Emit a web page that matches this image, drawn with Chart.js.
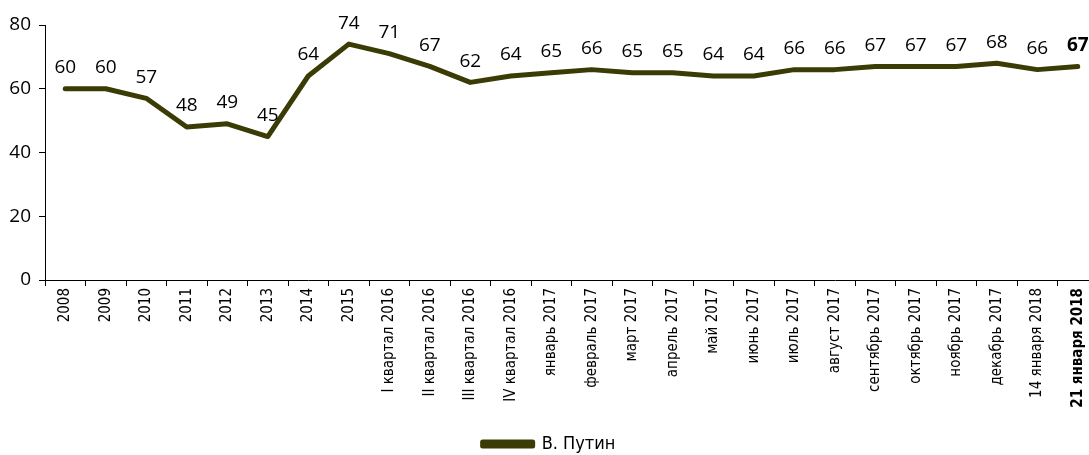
<!DOCTYPE html>
<html>
<head>
<meta charset="utf-8">
<script src="https://cdn.jsdelivr.net/npm/chart.js@4.4.1/dist/chart.umd.min.js"></script>
<style>
  html, body { margin: 0; padding: 0; background: #fff; overflow: hidden; }
  #wrap { width: 1098px; height: 463px; }
</style>
</head>
<body>
<div id="wrap"><canvas id="c" width="1098" height="463"></canvas></div>
<script>
const categories = [
  "2008", "2009", "2010", "2011", "2012", "2013", "2014", "2015",
  "I квартал 2016", "II квартал 2016", "III квартал 2016", "IV квартал 2016",
  "январь 2017", "февраль 2017", "март 2017", "апрель 2017", "май 2017",
  "июнь 2017", "июль 2017", "август 2017", "сентябрь 2017", "октябрь 2017",
  "ноябрь 2017", "декабрь 2017", "14 января 2018", "21 января 2018"
];
const seriesName = "В. Путин";
const putinValues = [60, 60, 57, 48, 49, 45, 64, 74, 71, 67, 62, 64, 65, 66, 65, 65, 64, 64, 66, 66, 67, 67, 67, 68, 66, 67];
const yTicks = [0, 20, 40, 60, 80];

const LINE_COLOR = "#3b3b06";
const NARROW = "'Liberation Sans Narrow', 'DejaVu Sans Condensed', 'Roboto', sans-serif";
const SANS = "'Open Sans', 'Noto Sans', sans-serif";
const lastIndex = categories.length - 1;

const valueLabels = {
  id: "valueLabels",
  afterDatasetsDraw(chart) {
    const ctx = chart.ctx;
    const meta = chart.getDatasetMeta(0);
    const data = chart.data.datasets[0].data;
    ctx.save();
    ctx.fillStyle = "#000";
    ctx.textAlign = "center";
    ctx.textBaseline = "middle";
    meta.data.forEach((pt, i) => {
      ctx.font = (i === lastIndex ? "bold " : "") + "19px " + SANS;
      ctx.fillText(String(data[i]), pt.x, pt.y - 21);
    });
    ctx.restore();
  }
};

new Chart(document.getElementById("c"), {
  type: "line",
  data: {
    labels: categories,
    datasets: [{
      label: seriesName,
      data: putinValues,
      borderColor: LINE_COLOR,
      backgroundColor: LINE_COLOR,
      borderWidth: 5,
      borderCapStyle: "round",
      borderJoinStyle: "round",
      pointRadius: 0,
      tension: 0,
      fill: false
    }]
  },
  options: {
    responsive: false,
    animation: false,
    devicePixelRatio: 1,
    layout: { padding: { top: 25, left: 0, right: 0, bottom: 0 } },
    plugins: {
      tooltip: { enabled: false },
      legend: {
        position: "bottom",
        labels: {
          boxWidth: 50,
          boxHeight: 4,
          padding: 6,
          color: "#000",
          font: { family: NARROW, size: 18 }
        }
      }
    },
    scales: {
      x: {
        offset: true,
        grid: {
          offset: true,
          drawOnChartArea: false,
          drawTicks: true,
          tickLength: 6,
          color: "#000",
          lineWidth: 1
        },
        border: { display: true, color: "#000", width: 1 },
        ticks: {
          autoSkip: false,
          minRotation: 90,
          maxRotation: 90,
          padding: 2,
          color: "#000",
          font: (c) => ({ family: NARROW, size: 15, weight: c.index === lastIndex ? "bold" : "normal" })
        },
        afterFit(scale) { scale.height = 149; }
      },
      y: {
        min: 0,
        max: 80,
        afterBuildTicks(scale) { scale.ticks = yTicks.map(v => ({ value: v })); },
        grid: {
          drawOnChartArea: false,
          drawTicks: true,
          tickLength: 6,
          color: "#000",
          lineWidth: 1
        },
        border: { display: true, color: "#000", width: 1 },
        ticks: {
          padding: 8,
          color: "#000",
          font: { family: SANS, size: 19 }
        },
        afterFit(scale) { scale.width = 45; }
      }
    }
  },
  plugins: [valueLabels]
});
</script>
</body>
</html>
